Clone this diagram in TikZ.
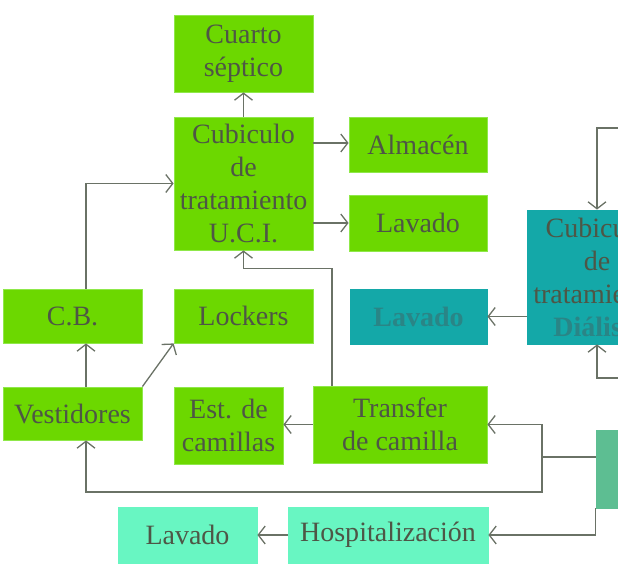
\documentclass[tikz,border=0pt]{standalone}
\usepackage{fontspec}
\setmainfont{Liberation Serif}
\usepackage{tikz}
\usetikzlibrary{arrows.meta,positioning,calc}
\definecolor{BoxGreen}{HTML}{6CD800}
\definecolor{EdgeGreen}{HTML}{8FE84A}
\definecolor{BoxTeal}{HTML}{14A8A8}
\definecolor{BoxAqua}{HTML}{68F6C2}
\definecolor{BoxSea}{HTML}{5DBE92}
\definecolor{LineGray}{HTML}{6A7266}
\definecolor{TextGray}{HTML}{4E5646}
\definecolor{HazeTeal}{HTML}{2A8586}

\begin{document}
\begin{tikzpicture}[x=1pt,y=-1pt,>={Straight Barb[length=7pt,width=18pt]},
  box/.style={draw=EdgeGreen,line width=0.8pt,fill=BoxGreen,inner sep=0pt,align=center,
    text=TextGray,font=\fontsize{28}{33}\selectfont},
  tealbox/.style={box,draw=BoxTeal,fill=BoxTeal},
  aquabox/.style={box,draw=BoxAqua,fill=BoxAqua},
  seabox/.style={box,draw=BoxSea,fill=BoxSea},
  flow/.style={->,draw=LineGray,line width=1.3pt}]
  \clip (0,0) rectangle (618,564);
  % green column, U.C.I.
  \node[box,minimum width=139,minimum height=77] (septico) at (243.5,53.5) {Cuarto\\séptico};
  \node[box,minimum width=139,minimum height=133] (uci) at (243.5,183.5) {Cubiculo\\de\\tratamiento\\U.C.I.};
  \node[box,minimum width=138,minimum height=55] (almacen) at (418,144.5) {Almacén};
  \node[box,minimum width=138,minimum height=56] (lavadoA) at (418,223) {Lavado};
  \node[box,minimum width=139,minimum height=54] (cb) at (72.5,316) {C.B.};
  \node[box,minimum width=139,minimum height=54] (lockers) at (243.5,316) {Lockers};
  \node[box,minimum width=139,minimum height=53] (vestidores) at (72.5,413.5) {Vestidores};
  \node[box,minimum width=109,minimum height=77] (camillas) at (228.5,425.5) {Est. de\\camillas};
  \node[box,minimum width=174,minimum height=77] (transfer) at (400,424.5) {Transfer\\de camilla};
  % teal side
  \node[tealbox,minimum width=137,minimum height=55] (lavadoT) at (418.5,316.5) {\textcolor{HazeTeal}{\bfseries Lavado}};
  \node[tealbox,minimum width=140,minimum height=134] (dialisis) at (597,277)
    {Cubiculo\\de\\tratamiento\\\textcolor{HazeTeal}{\bfseries Diálisis}};
  % bottom row
  \node[aquabox,minimum width=139,minimum height=56] (lavadoB) at (187.5,535) {Lavado};
  \node[aquabox,minimum width=200,minimum height=56] (hosp) at (388,535) {Hospitalización};
  \node[seabox,minimum width=140,minimum height=78] (entrada) at (666,469) {};
  % connectors
  \coordinate (colA) at (86,0);
  \coordinate (colB) at (332,0);
  \coordinate (split) at (542,457);
  \coordinate (inA) at (640,128);
  \coordinate (inB) at (640,378);
  \draw[flow] (uci) -- (septico);
  \draw[flow] (uci.east |- 0,143) -- (almacen.west |- 0,143);
  \draw[flow] (uci.east |- lavadoA.west) -- (lavadoA.west);
  \draw[flow] (cb.north -| colA) |- (uci.west);
  \draw[flow] (vestidores.north -| colA) -- (cb.south -| colA);
  \draw[flow] (vestidores.north east) -- (lockers.south west);
  \draw[flow] (transfer.north -| colB) -- ++(0,-117) -| (uci.south);
  \draw[flow] (transfer.west) -- (transfer.west -| camillas.east);
  \draw[draw=LineGray,line width=1.3pt] (entrada.west |- split) -- (split);
  \draw[flow] (split) |- (transfer.east);
  \draw[flow] (split) -- ++(0,35) -| (vestidores.south -| colA);
  \draw[flow] (entrada.south west) |- (hosp.east);
  \draw[flow] (hosp.west) -- (lavadoB.east);
  \draw[flow] (inA) -| (dialisis.north);
  \draw[flow] (inB) -| (dialisis.south);
  \draw[flow] (dialisis.west |- lavadoT.east) -- (lavadoT.east);
\end{tikzpicture}
\end{document}
